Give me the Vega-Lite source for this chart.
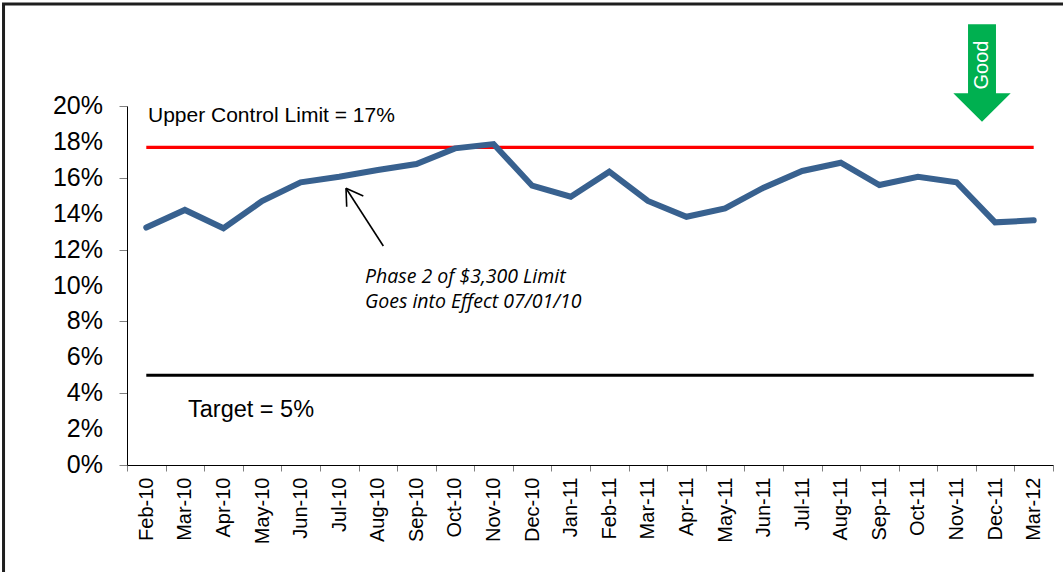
{
  "$schema": "https://vega.github.io/schema/vega-lite/v6.json",
  "width": 926,
  "height": 359,
  "autosize": {"type": "none"},
  "padding": {"left": 127, "top": 106, "right": 10, "bottom": 107},
  "background": "white",
  "config": {"view": {"stroke": null}, "font": "Liberation Sans"},
  "datasets": {
    "series": [
      {"month": "Feb-10", "rate": 0.1323},
      {"month": "Mar-10", "rate": 0.1421},
      {"month": "Apr-10", "rate": 0.1319},
      {"month": "May-10", "rate": 0.147},
      {"month": "Jun-10", "rate": 0.1575},
      {"month": "Jul-10", "rate": 0.1606},
      {"month": "Aug-10", "rate": 0.1643},
      {"month": "Sep-10", "rate": 0.1677},
      {"month": "Oct-10", "rate": 0.1764},
      {"month": "Nov-10", "rate": 0.1788},
      {"month": "Dec-10", "rate": 0.1556},
      {"month": "Jan-11", "rate": 0.1495},
      {"month": "Feb-11", "rate": 0.1634},
      {"month": "Mar-11", "rate": 0.1471},
      {"month": "Apr-11", "rate": 0.1383},
      {"month": "May-11", "rate": 0.143},
      {"month": "Jun-11", "rate": 0.1545},
      {"month": "Jul-11", "rate": 0.1638},
      {"month": "Aug-11", "rate": 0.1684},
      {"month": "Sep-11", "rate": 0.156},
      {"month": "Oct-11", "rate": 0.1606},
      {"month": "Nov-11", "rate": 0.1575},
      {"month": "Dec-11", "rate": 0.1352},
      {"month": "Mar-12", "rate": 0.1363}
    ],
    "yticks": [
      {"v": 0}, {"v": 0.02}, {"v": 0.04}, {"v": 0.06}, {"v": 0.08}, {"v": 0.1},
      {"v": 0.12}, {"v": 0.14}, {"v": 0.16}, {"v": 0.18}, {"v": 0.2}
    ]
  },
  "resolve": {"scale": {"x": "independent"}},
  "layer": [
    {
      "data": {"values": [{"x": -3.2, "x2": 26, "y": 0.2568, "y2": -0.12}]},
      "mark": {"type": "rect", "fillOpacity": 0, "stroke": "#1e1e1e", "strokeWidth": 3},
      "encoding": {
        "x": {"field": "x", "type": "quantitative", "scale": {"domain": [0, 24], "nice": false, "zero": false}, "axis": null},
        "x2": {"field": "x2"},
        "y": {"field": "y", "type": "quantitative", "title": null, "scale": {"domain": [0, 0.2], "nice": false}},
        "y2": {"field": "y2"}
      }
    },
    {
      "data": {"values": [
        {"limit": "Upper Control Limit", "x": 0.5, "x2": 23.5, "value": 0.177},
        {"limit": "Target", "x": 0.5, "x2": 23.5, "value": 0.05}
      ]},
      "mark": {"type": "rule", "strokeWidth": 3.2},
      "encoding": {
        "x": {"field": "x", "type": "quantitative", "scale": {"domain": [0, 24], "nice": false, "zero": false}, "axis": null},
        "x2": {"field": "x2"},
        "y": {"field": "value", "type": "quantitative", "title": null, "scale": {"domain": [0, 0.2], "nice": false}},
        "color": {"field": "limit", "type": "nominal", "scale": {"domain": ["Upper Control Limit", "Target"], "range": ["#FF0000", "#000000"]}, "legend": null}
      }
    },
    {
      "data": {"name": "series"},
      "mark": {"type": "line", "color": "#38618F", "strokeWidth": 6, "strokeCap": "round", "strokeJoin": "miter"},
      "encoding": {
        "x": {
          "field": "month", "type": "ordinal", "sort": null, "bandPosition": 0.5,
          "scale": {"type": "band", "paddingInner": 0, "paddingOuter": 0},
          "axis": {
            "title": null, "labelAngle": -90, "labelAlign": "right", "labelBaseline": "middle",
            "labelFontSize": 20, "labelColor": "black", "labelFont": "Liberation Sans",
            "tickBand": "extent", "tickSize": 6, "tickColor": "#808080", "domainColor": "black",
            "labelPadding": 6, "grid": false, "labelOverlap": false
          }
        },
        "y": {
          "field": "rate", "type": "quantitative", "title": null,
          "scale": {"domain": [0, 0.2], "nice": false},
          "axis": {
            "values": [0, 0.02, 0.04, 0.06, 0.08, 0.1, 0.12, 0.14, 0.16, 0.18, 0.2],
            "labels": false, "tickSize": 8, "tickColor": "#808080", "domainColor": "black", "grid": false
          }
        }
      }
    },
    {
      "data": {"name": "yticks"},
      "mark": {"type": "text", "align": "right", "baseline": "middle", "fontSize": 25, "font": "Liberation Sans", "color": "black"},
      "encoding": {
        "x": {"datum": -0.622, "type": "quantitative", "scale": {"domain": [0, 24], "nice": false, "zero": false}, "axis": null},
        "y": {"field": "v", "type": "quantitative", "title": null, "scale": {"domain": [0, 0.2], "nice": false}},
        "text": {"field": "v", "type": "quantitative", "format": ".0%"}
      }
    },
    {
      "data": {"values": [
        {"part": "shaft", "x": 6.643, "y": 0.122, "x2": 5.676, "y2": 0.15415},
        {"part": "arm1", "x": 5.676, "y": 0.15415, "x2": 5.694, "y2": 0.1439},
        {"part": "arm2", "x": 5.676, "y": 0.15415, "x2": 6.125, "y2": 0.14986}
      ]},
      "mark": {"type": "rule", "color": "black", "strokeWidth": 1.6},
      "encoding": {
        "x": {"field": "x", "type": "quantitative", "scale": {"domain": [0, 24], "nice": false, "zero": false}, "axis": null},
        "x2": {"field": "x2"},
        "y": {"field": "y", "type": "quantitative", "title": null, "scale": {"domain": [0, 0.2], "nice": false}},
        "y2": {"field": "y2"}
      }
    },
    {
      "data": {"values": [{"text": "Upper Control Limit = 17%", "x": 0.544, "y": 0.1944}]},
      "mark": {"type": "text", "align": "left", "baseline": "middle", "fontSize": 21, "font": "Liberation Sans", "color": "black"},
      "encoding": {
        "x": {"field": "x", "type": "quantitative", "scale": {"domain": [0, 24], "nice": false, "zero": false}, "axis": null},
        "y": {"field": "y", "type": "quantitative", "title": null, "scale": {"domain": [0, 0.2], "nice": false}},
        "text": {"field": "text"}
      }
    },
    {
      "data": {"values": [{"text": "Target = 5%", "x": 1.581, "y": 0.0306}]},
      "mark": {"type": "text", "align": "left", "baseline": "middle", "fontSize": 23.5, "font": "Liberation Sans", "color": "black"},
      "encoding": {
        "x": {"field": "x", "type": "quantitative", "scale": {"domain": [0, 24], "nice": false, "zero": false}, "axis": null},
        "y": {"field": "y", "type": "quantitative", "title": null, "scale": {"domain": [0, 0.2], "nice": false}},
        "text": {"field": "text"}
      }
    },
    {
      "data": {"values": [
        {"text": "Phase 2 of $3,300 Limit", "x": 6.168, "y": 0.1049},
        {"text": "Goes into Effect 07/01/10", "x": 6.168, "y": 0.091}
      ]},
      "mark": {"type": "text", "align": "left", "baseline": "middle", "fontSize": 19.5, "font": "Open Sans", "fontStyle": "italic", "color": "black"},
      "encoding": {
        "x": {"field": "x", "type": "quantitative", "scale": {"domain": [0, 24], "nice": false, "zero": false}, "axis": null},
        "y": {"field": "y", "type": "quantitative", "title": null, "scale": {"domain": [0, 0.2], "nice": false}},
        "text": {"field": "text"}
      }
    },
    {
      "data": {"values": [{"x": 22.16, "y": 0.2184}]},
      "mark": {"type": "point", "filled": true, "fill": "#00B050", "fillOpacity": 1, "strokeWidth": 0, "size": 9487,
        "shape": "M-0.287,-1L0.287,-1L0.287,0.417L0.589,0.417L0,1L-0.589,0.417L-0.287,0.417Z"},
      "encoding": {
        "x": {"field": "x", "type": "quantitative", "scale": {"domain": [0, 24], "nice": false, "zero": false}, "axis": null},
        "y": {"field": "y", "type": "quantitative", "title": null, "scale": {"domain": [0, 0.2], "nice": false}}
      }
    },
    {
      "data": {"values": [{"text": "Good", "x": 22.16, "y": 0.2228}]},
      "mark": {"type": "text", "align": "center", "baseline": "middle", "angle": 270, "fontSize": 20, "font": "Liberation Sans", "color": "white"},
      "encoding": {
        "x": {"field": "x", "type": "quantitative", "scale": {"domain": [0, 24], "nice": false, "zero": false}, "axis": null},
        "y": {"field": "y", "type": "quantitative", "title": null, "scale": {"domain": [0, 0.2], "nice": false}},
        "text": {"field": "text"}
      }
    }
  ]
}
